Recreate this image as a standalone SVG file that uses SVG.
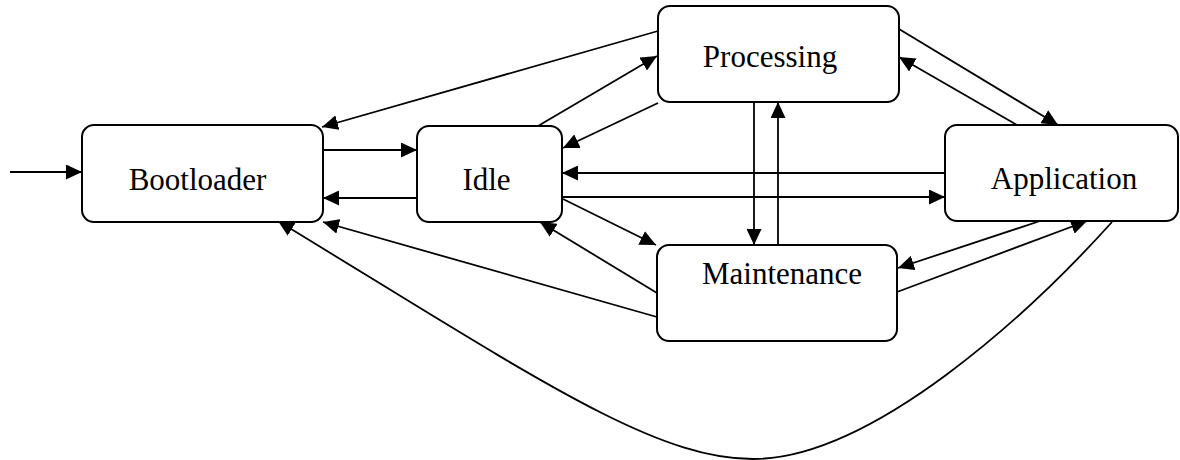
<svg xmlns="http://www.w3.org/2000/svg" width="1180" height="460" viewBox="0 0 1180 460">
<style>
.node rect{fill:#fff;stroke:#000;stroke-width:2}
.node text{font-family:"Liberation Serif","Times New Roman",serif;font-size:31px;fill:#000;text-anchor:middle}
.edges path{fill:none;stroke:#000;stroke-width:1.8;marker-end:url(#ah)}
</style>
<defs>
<marker id="ah" markerUnits="userSpaceOnUse" markerWidth="17" markerHeight="15" refX="16" refY="7.5" orient="auto">
<path d="M0,0 L16,7.5 L0,15 z" fill="#000"/>
</marker>
</defs>
<rect width="1180" height="460" fill="#fff"/>
<g class="edges">
<path d="M10,172 L82,172"/>
<path d="M323,150 L417,150"/>
<path d="M417,198 L323,198"/>
<path d="M658,31 L322,127"/>
<path d="M538,126 L657,56"/>
<path d="M658,103 L563,148"/>
<path d="M945,173 L562,173"/>
<path d="M562,197 L945,197"/>
<path d="M563,199 L656,245"/>
<path d="M657,293 L540,222"/>
<path d="M657,317 L323,222"/>
<path d="M754,102 L754,245"/>
<path d="M778,245 L778,102"/>
<path d="M899,29 L1058,125"/>
<path d="M1017,125 L899,57"/>
<path d="M1040,221 L898,268"/>
<path d="M897,292 L1087,221"/>
<path d="M1112,222 C1031.7,311.2 873,459 753,459 C653,459 534,377 278,221"/>
</g>
<g id="bootloader" class="node"><rect x="82" y="125" width="241" height="97" rx="12"/><text x="197.5" y="190">Bootloader</text></g>
<g id="idle" class="node"><rect x="417" y="126" width="145" height="96" rx="12"/><text x="486.5" y="190">Idle</text></g>
<g id="processing" class="node"><rect x="658" y="6" width="241" height="96" rx="12"/><text x="770" y="67">Processing</text></g>
<g id="application" class="node"><rect x="945" y="125" width="233" height="96" rx="12"/><text x="1064" y="189">Application</text></g>
<g id="maintenance" class="node"><rect x="657" y="245" width="240" height="96" rx="12"/><text x="782" y="284">Maintenance</text></g>
</svg>
